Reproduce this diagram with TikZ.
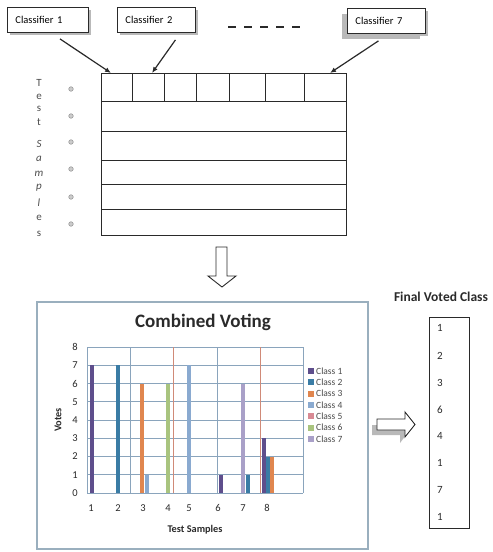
\documentclass[tikz,border=0pt]{standalone}
\usepackage{fontspec}
\setmainfont{Carlito}
\usetikzlibrary{shadows,arrows.meta}
\definecolor{cone}{HTML}{5E4E8C}
\definecolor{ctwo}{HTML}{3A7CA5}
\definecolor{cthree}{HTML}{E0864F}
\definecolor{cfour}{HTML}{8AAAD0}
\definecolor{cfive}{HTML}{D88A94}
\definecolor{csix}{HTML}{A9C47F}
\definecolor{cseven}{HTML}{A9A0C8}
\definecolor{gridblue}{HTML}{8AA4BC}
\definecolor{gridred}{HTML}{D08A78}
\definecolor{chartborder}{HTML}{9AAFBE}
\definecolor{ink}{HTML}{2A2A2A}
\begin{document}
\begin{tikzpicture}[x=1pt,y=-1pt,
  cbox/.style={draw=ink, line width=0.9pt, fill=white, anchor=north west,
    minimum height=25pt, inner xsep=8pt, align=left,
    font=\fontsize{10.5}{11}\selectfont,
    drop shadow={shadow xshift=3pt, shadow yshift=-3pt, fill=gray!55, opacity=1}},
  pointer/.style={ink, line width=1.2pt, -{Latex[length=6pt,width=5pt]}},
  tline/.style={ink, line width=1pt},
  letter/.style={font=\fontsize{11}{12}\selectfont, text=gray!60!black, inner sep=0pt},
  dotsym/.style={circle, draw=gray!80, fill=gray!40, line width=0.6pt, minimum size=4.5pt, inner sep=0pt},
  tick/.style={font=\fontsize{10.5}{11}\selectfont, text=ink, inner sep=0pt},
  legtxt/.style={font=\fontsize{9.5}{10}\selectfont, text=ink!85, anchor=west, inner sep=0pt},
  num/.style={font=\fontsize{11}{12}\selectfont, text=ink, inner sep=0pt},
  bigarrow/.style={draw=ink, line width=0.9pt, fill=white, line join=miter}
]
\useasboundingbox (0,0) rectangle (493,552);

% classifier boxes
\node[cbox, minimum width=81pt, text width=65pt] (c1) at (7,7) {Classifier 1};
\node[cbox, minimum width=78pt, text width=62pt] (c2) at (117,7) {Classifier 2};
\node[cbox, minimum width=78pt, text width=62pt, drop shadow={shadow xshift=-5pt, shadow yshift=-6pt, fill=gray!55, opacity=1}] (c7) at (347,8) {Classifier 7};
\coordinate (da) at (228,27);
\coordinate (db) at (300,27);
\draw[ink, line width=1.3pt, dash pattern=on 8pt off 8pt] (da) -- (db);

% table
\draw[tline] (101,73) rectangle (346,235);
\foreach \yy in {101,131,160,184,209} \draw[tline] (101,\yy) -- (346,\yy);
\foreach \xx in {132,164,196,229,265,304} \draw[tline] (\xx,73) -- (\xx,101);

\coordinate (t1) at (111,73);
\coordinate (t2) at (152,73);
\coordinate (t7) at (330,73);
\draw[pointer] ([shift={(12,6)}]c1.south) -- (t1);
\draw[pointer] ([shift={(19,7)}]c2.south) -- (t2);
\draw[pointer] ([shift={(-8,7)}]c7.south) -- (t7);

% Test Samples letters
\node[letter] (l1) at (39,83) {T};
\node[letter] (l2) at (39,97) {e};
\node[letter] (l3) at (39,109) {s};
\node[letter] (l4) at (39,122) {t};
\node[letter] (l5) at (39,144) {\itshape S};
\node[letter] (l6) at (39,159) {\itshape a};
\node[letter] (l7) at (39,174) {\itshape m};
\node[letter] (l8) at (39,188) {\itshape p};
\node[letter] (l9) at (39,203) {\itshape l};
\node[letter] (l10) at (39,218) {e};
\node[letter] (l11) at (39,234) {s};
\foreach \yy/\k in {89/1,116/2,142/3,169/4,197/5,224/6} \node[dotsym] (d\k) at (71,\yy) {};

% down arrow
\draw[bigarrow] (216,247) -- (227,247) -- (227,276) -- (236,276) -- (222,287) -- (208,276) -- (216,276) -- cycle;

% chart frame
\draw[chartborder, line width=1.3pt, fill=white] (37,302) rectangle (368,549);
\node[font=\bfseries\fontsize{19}{20}\selectfont, text=ink] (title) at (203,322) {Combined Voting};

% grid
\foreach \k in {0,...,8} {
  \draw[gridblue, line width=0.6pt] (87,493-18.25*\k) -- (303,493-18.25*\k);
  \node[tick] (yt\k) at (75,493-18.25*\k) {\k};
}
\foreach \xx in {87,130,217,303} \draw[gridblue, line width=0.6pt] (\xx,347) -- (\xx,493);
\foreach \xx in {173,260} \draw[gridred, line width=0.6pt] (\xx,347) -- (\xx,493);

% bars
\foreach \xx/\h/\c in {92/7/cone, 118/7/ctwo, 142/6/cthree, 146.5/1/cfour, 168/6/csix, 189/7/cfour,
   221/1/cone, 243/6/cseven, 247.5/1/ctwo, 263.5/3/cone, 267.5/2/ctwo, 271.5/2/cthree}
  \fill[\c] (\xx-2,493) rectangle (\xx+2,493-18.25*\h);

% x labels
\foreach \xx/\k in {91/1,118/2,143/3,168/4,189/5,218/6,243/7,267/8} \node[tick] (xt\k) at (\xx,508) {\k};
\node[font=\bfseries\fontsize{10.3}{11}\selectfont, text=ink] (xlab) at (195,530) {Test Samples};
\node[font=\bfseries\fontsize{10.3}{11}\selectfont, text=ink, rotate=90] (ylab) at (58,420) {Votes};

% legend
\foreach \yy/\c/\k in {371/cone/1, 382.3/ctwo/2, 393.6/cthree/3, 404.9/cfour/4, 416.2/cfive/5, 427.5/csix/6, 438.8/cseven/7} {
  \fill[\c] (308,\yy-3) rectangle (314,\yy+3);
  \node[legtxt] (lg\k) at (316,\yy) {Class \k};
}

% right arrow with shadow
\fill[gray!55] (372,425) -- (400,425) -- (400,419) -- (409,431) -- (400,443) -- (400,435) -- (372,435) -- cycle;
\draw[bigarrow] (377,419) -- (405,419) -- (405,412) -- (415,424.5) -- (405,437) -- (405,430) -- (377,430) -- cycle;

% final voted class
\node[font=\bfseries\fontsize{13.5}{14}\selectfont, text=ink] (fvt) at (441,297) {Final Voted Class};
\draw[ink, line width=1pt] (429,317) rectangle (469,528);
\foreach \yy/\v/\k in {328/1/1, 356/2/2, 383/3/3, 410/6/4, 436/4/5, 463/1/6, 490/7/7, 517/1/8}
  \node[num] (f\k) at (440,\yy) {\v};
\end{tikzpicture}
\end{document}
